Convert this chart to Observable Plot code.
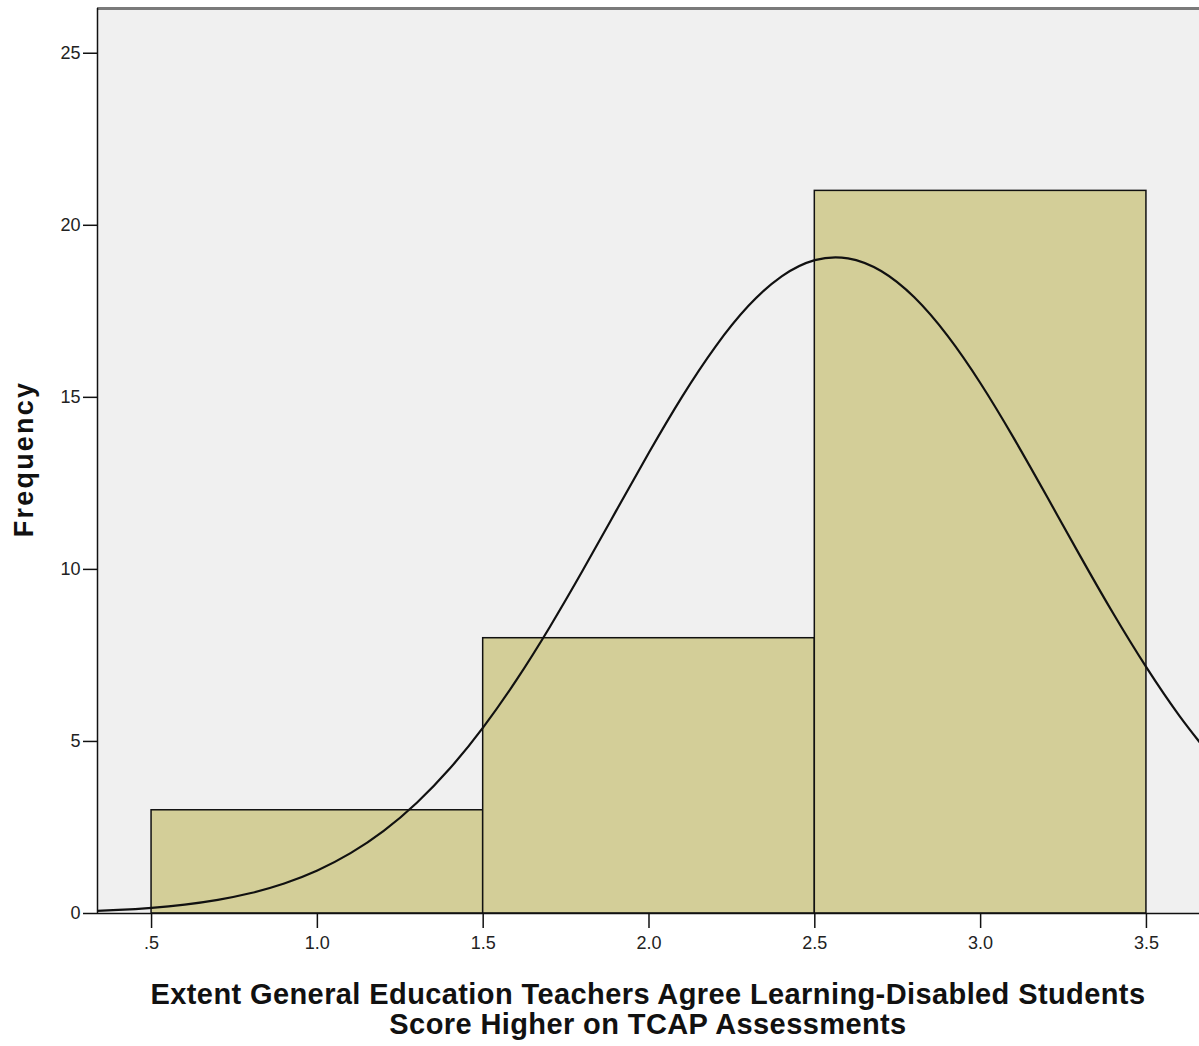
<!DOCTYPE html>
<html>
<head>
<meta charset="utf-8">
<script src="https://cdn.jsdelivr.net/npm/d3@7"></script>
<script src="https://cdn.jsdelivr.net/npm/@observablehq/plot@0.6"></script>
<style>
  body { margin: 0; background: #fff; font-family: "Liberation Sans", Arial, sans-serif; }
  #wrap { position: relative; width: 1199px; height: 1046px; }
  #wrap svg { position: absolute; left: 0; top: 0; }
  .ylab { position: absolute; left: 24px; top: 459px; transform: translate(-50%, -50%) rotate(-90deg);
          font-weight: bold; font-size: 27px; letter-spacing: 2.2px; white-space: nowrap; color: #111; }
  .xlab { position: absolute; left: 648px; top: 979px; transform: translateX(-50%);
          font-weight: bold; font-size: 29px; letter-spacing: 0.4px; line-height: 30px; text-align: center; white-space: nowrap; color: #111; }
</style>
</head>
<body>
<div id="wrap"></div>
<script>
// Histogram bins
const binStart = [0.5, 1.5, 2.5];
const binEnd   = [1.5, 2.5, 3.5];
const binFreq  = [3, 8, 21];

// Normal curve points
const curveX = [0.3,0.4,0.5,0.6,0.7,0.8,0.9,1.0,1.1,1.2,1.3,1.4,1.5,1.6,1.7,1.8,1.9,2.0,2.1,2.2,2.3,2.4,2.5,2.6,2.7,2.8,2.9,3.0,3.1,3.2,3.3,3.4,3.5,3.6,3.7];
const curveY = [0.063,0.103,0.165,0.259,0.397,0.595,0.872,1.250,1.753,2.401,3.219,4.220,5.410,6.781,8.313,9.966,11.686,13.397,15.022,16.469,17.659,18.517,18.988,19.040,18.671,17.907,16.793,15.403,13.815,12.117,10.393,8.717,7.151,5.737,4.499];

// Ticks
const xTicks = [0.5, 1.0, 1.5, 2.0, 2.5, 3.0, 3.5];
const xTickLabels = [".5", "1.0", "1.5", "2.0", "2.5", "3.0", "3.5"];
const yTicks = [0, 5, 10, 15, 20, 25];

const yLabel = "Frequency";
const xLabelLines = ["Extent General Education Teachers Agree Learning-Disabled Students", "Score Higher on TCAP Assessments"];

const xDomain = [0.337, 3.66];
const yDomain = [0, 26.3];

const bins = binStart.map((s, i) => ({x1: s, x2: binEnd[i], y: binFreq[i]}));
const curve = curveX.map((x, i) => ({x, y: curveY[i]}));

const chart = Plot.plot({
  width: 1199,
  height: 960,
  marginLeft: 97,
  marginRight: 0,
  marginTop: 8,
  marginBottom: 47,
  style: {fontFamily: "'Liberation Sans', Arial, sans-serif", fontSize: "18px", color: "#222", background: "transparent"},
  x: {domain: xDomain},
  y: {domain: yDomain},
  marks: [
    Plot.frame({fill: "#f0f0f0", stroke: "none"}),
    Plot.rectY(bins, {x1: "x1", x2: "x2", y: "y", fill: "#d3ce98", stroke: "#111", strokeWidth: 1.5}),
    Plot.line(curve, {x: "x", y: "y", curve: "natural", stroke: "#111", strokeWidth: 2.2, clip: true}),
    Plot.ruleY([yDomain[1]], {stroke: "#7a7a7a", strokeWidth: 3}),
    Plot.ruleY([0], {stroke: "#111", strokeWidth: 1.5}),
    Plot.ruleX([xDomain[0]], {stroke: "#111", strokeWidth: 1.5}),
    Plot.axisX({ticks: xTicks, tickFormat: (d, i) => xTickLabels[i], tickSize: 15, tickPadding: 8, fontSize: 18, label: null, stroke: "#111", strokeWidth: 1.5}),
    Plot.axisY({ticks: yTicks, tickSize: 14, tickPadding: 3, fontSize: 18, label: null, stroke: "#111", strokeWidth: 1.5})
  ]
});

const wrap = document.getElementById("wrap");
wrap.appendChild(chart);
const yl = document.createElement("div");
yl.className = "ylab";
yl.textContent = yLabel;
wrap.appendChild(yl);
const xl = document.createElement("div");
xl.className = "xlab";
xl.innerHTML = xLabelLines.join("<br>");
wrap.appendChild(xl);
</script>
</body>
</html>
